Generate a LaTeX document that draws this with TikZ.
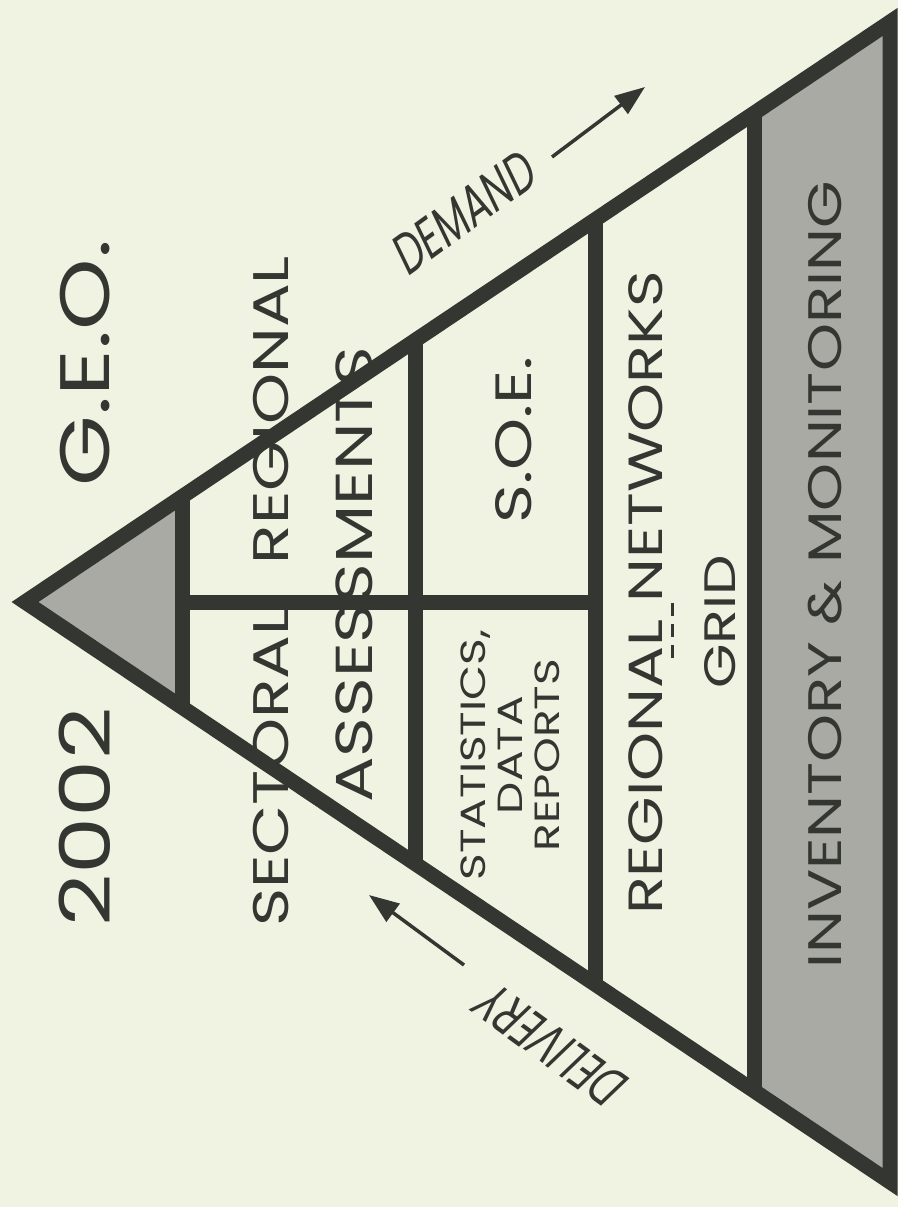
\documentclass[tikz,border=0pt]{standalone}
\usepackage{fontspec}
\setmainfont{Poppins}[FakeStretch=1.3]
\newfontfamily\slimfont{Poppins}[FakeStretch=0.7, FakeSlant=0.18]
\usetikzlibrary{arrows.meta, calc}
\definecolor{paper}{RGB}{241,243,226}
\definecolor{ink}{RGB}{52,54,50}
\definecolor{screen}{RGB}{170,170,165}

\begin{document}
\begin{tikzpicture}[
    x=1pt, y=-1pt,
    % ── shapes ──────────────────────────────────────────────
    wall/.style = {draw=ink, line width=15pt, line join=miter},
    shade/.style = {fill=screen},
    % ── texts ───────────────────────────────────────────────
    tier/.style = {text=ink, rotate=90, inner sep=0pt,
            font=\fontsize{50}{55}\selectfont},
    small/.style = {tier, align=center, font=\fontsize{35}{37}\selectfont},
    big/.style = {tier, font=\fontsize{70}{75}\selectfont},
    flow/.style = {text=ink, inner sep=0pt,
            font=\slimfont\fontsize{56}{60}\selectfont},
    flowarrow/.style = {draw=ink, line width=3.5pt,
            -{Triangle[length=30pt, width=22pt]}},
    ]

    \fill[paper] (0,0) rectangle (898,1207);
    \useasboundingbox (0,0) rectangle (898,1207);

    % ============================================================
    % PYRAMID FRAME
    % ============================================================
    \coordinate (apex) at (25,602);
    \coordinate (top) at (890,22);
    \coordinate (bot) at (890,1182);
    \foreach \n/\t in {a/0.1815, b/0.4509, c/0.6601, d/0.8439} {
        \coordinate (top-\n) at ($(apex)!\t!(top)$);
        \coordinate (bot-\n) at ($(apex)!\t!(bot)$);
    }
    \coordinate (mid-a) at ($(top-a)!0.5!(bot-a)$);
    \coordinate (mid-c) at ($(top-c)!0.5!(bot-c)$);

    \path[shade] (apex) -- (top-a) -- (bot-a) -- cycle;
    \path[shade] (top-d) -- (top) -- (bot) -- (bot-d) -- cycle;

    % ============================================================
    % LABELS
    % ============================================================
    \node[big] (year) at (85,817) {2002};
    \node[big] (geo) at (85,363) {G.E.O.};

    \node[tier] (sectoral) at (271,767) {SECTORAL};
    \node[tier] (regional) at (271,410) {REGIONAL};
    \node[tier, font=\fontsize{52}{55}\selectfont] (assess) at (354,575) {ASSESSMENTS};

    \node[small] (stats) at (510,755) {STATISTICS,\\DATA\\REPORTS};
    \node[tier, font=\fontsize{51}{55}\selectfont] (soe) at (514,440) {S.O.E.};

    \node[tier, font=\fontsize{48}{52}\selectfont] (networks) at (646,593) {REGIONAL NETWORKS};
    \node[tier, font=\fontsize{44}{48}\selectfont] (grid) at (720,622) {GRID};

    \node[tier, font=\fontsize{47}{50}\selectfont] (inventory) at (825,575) {INVENTORY \& MONITORING};

    % ============================================================
    % WALLS
    % ============================================================
    \draw[wall] (apex) -- (top) -- (bot) -- cycle;
    \foreach \n in {a,b,c,d} \draw[wall] (top-\n) -- (bot-\n);
    \draw[wall] (mid-a) -- (mid-c);
    \draw[ink, line width=3pt, dash pattern=on 13pt off 8pt] (672,603) -- (672,660);

    % ============================================================
    % DEMAND / DELIVERY
    % ============================================================
    \node[flow, rotate=36] (demand) at (462,214) {DEMAND};
    \node[flow, rotate=144] (delivery) at (553,1047) {DELIVERY};

    \coordinate (demand-tail) at (552,157);
    \coordinate (demand-tip) at (645,87);
    \coordinate (delivery-tail) at (464,965);
    \coordinate (delivery-tip) at (369,895);

    \draw[flowarrow] (demand-tail) -- (demand-tip);
    \draw[flowarrow] (delivery-tail) -- (delivery-tip);

\end{tikzpicture}
\end{document}
